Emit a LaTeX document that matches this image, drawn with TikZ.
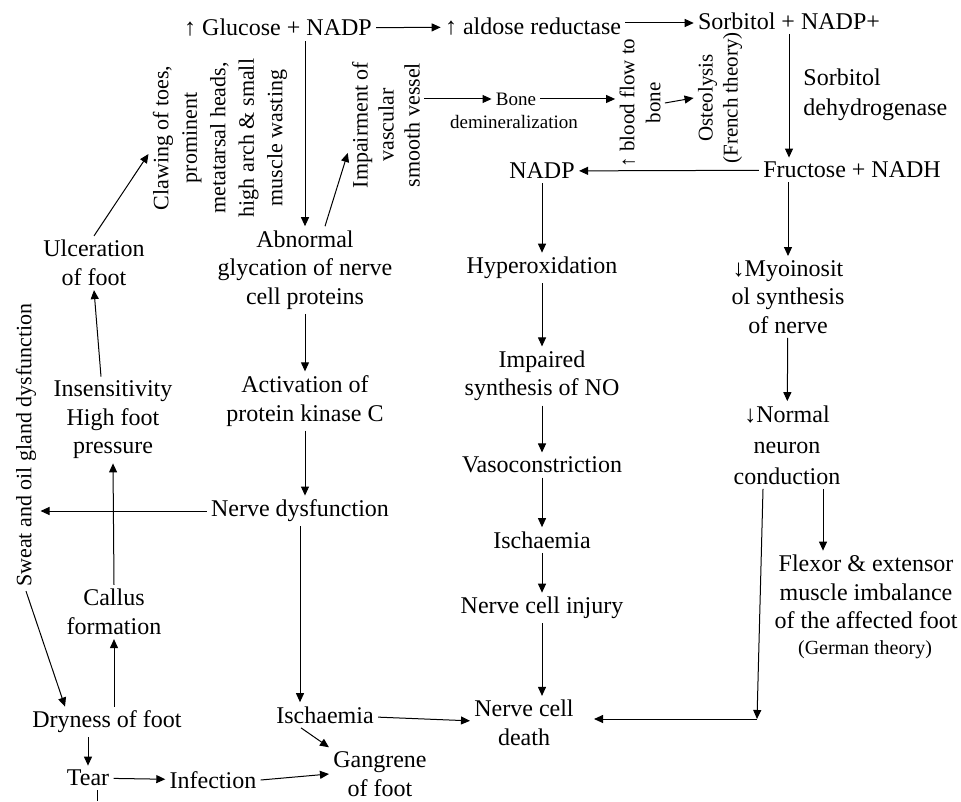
\documentclass[tikz,border=0pt]{standalone}
\usepackage{fontspec}
\setmainfont{Liberation Serif}
\usetikzlibrary{positioning,arrows.meta}

\begin{document}
\begin{tikzpicture}[x=0.5pt,y=-0.5pt,
  every node/.style={font=\fontsize{12}{14.25}\selectfont,inner sep=2pt,align=center},
  flow/.style={-{Triangle[length=4.5pt,width=4pt]},line width=0.5pt},
  vtext/.style={rotate=90,font=\fontsize{11}{14.25}\selectfont}]
\useasboundingbox (0,0) rectangle (961,801);
% top row
\node (glu) at (278,28) {↑ Glucose + NADP};
\node (ald) at (533,27) {↑ aldose reductase};
\node (sorb) at (789,21) {Sorbitol + NADP+};
\node[anchor=west,align=left,font=\fontsize{12}{15}\selectfont] (sdh) at (799,95) {Sorbitol\\dehydrogenase};
\node (fruc) at (852,170) {Fructose + NADH};
% vertical labels
\node[vtext] (claw) at (220,138) {Clawing of toes,\\prominent\\metatarsal heads,\\high arch \& small\\muscle wasting};
\node[vtext,font=\fontsize{11}{13}\selectfont] (impair) at (386,125) {Impairment of\\vascular\\smooth vessel};
\node[font=\fontsize{9.5}{12}\selectfont] (bone) at (516,99) {Bone};
\node[font=\fontsize{9.5}{12}\selectfont] (demin) at (514,122) {demineralization};
\node[vtext,font=\fontsize{10.5}{13}\selectfont] (blood) at (640,103) {↑ blood flow to\\bone};
\node[vtext,font=\fontsize{10.5}{12.5}\selectfont] (osteo) at (720,98) {Osteolysis\\(French theory)};
\node[vtext] (sweat) at (26,445) {Sweat and oil gland dysfunction};
% middle column
\node (nadp) at (542,171) {NADP};
\node (hyper) at (542,268) {Hyperoxidation};
\node (impsyn) at (542,376) {Impaired\\synthesis of NO};
\node (vaso) at (542,465) {Vasoconstriction};
\node (isch2) at (542,540) {Ischaemia};
\node (injury) at (542,608) {Nerve cell injury};
\node (death) at (524,723) {Nerve cell\\death};
% right column
\node (myo) at (788,297) {↓Myoinosit\\ol synthesis\\of nerve};
\node[font=\fontsize{12}{15.5}\selectfont] (norm) at (787,445) {↓Normal\\neuron\\conduction};
\node (flex) at (866,592) {Flexor \& extensor\\muscle imbalance\\of the affected foot};
\node[font=\fontsize{10}{12}\selectfont] (german) at (865,650) {(German theory)};
\coordinate (cn) at (757,719);
% left columns
\node (glyc) at (305,270) {Abnormal\\glycation of nerve\\cell proteins};
\node (kinase) at (305,401) {Activation of\\protein kinase C};
\node (nervedys) at (300,511) {Nerve dysfunction};
\node (isch1) at (325,715) {Ischaemia};
\node (gang) at (380,774) {Gangrene\\of foot};
\node (ulcer) at (94,263) {Ulceration\\of foot};
\node (insens) at (113,420) {Insensitivity\\High foot\\pressure};
\node (callus) at (114,612) {Callus\\formation};
\node (dry) at (107,722) {Dryness of foot};
\node (tear) at (88,778) {Tear};
\node (infect) at (213,780) {Infection};
\coordinate (tearEnd) at (97,801);

\draw[flow] (glu) -- (ald);
\draw[flow] ([yshift=2pt]ald.east) -- ([yshift=2pt]ald.east -| sorb.west);
\draw[flow] (sorb.south) -- (sorb.south |- fruc.north);
\draw[flow] (fruc) -- (nadp);
\draw[flow] (nadp) -- (hyper);
\draw[flow] (hyper) -- (impsyn);
\draw[flow] (impsyn) -- (vaso);
\draw[flow] (vaso) -- (isch2);
\draw[flow] (isch2) -- (injury);
\draw[flow] (injury.south) -- (injury.south |- death.north);
\draw[flow] (myo |- fruc.south) -- (myo);
\draw[flow] (myo) -- (norm);
\draw[flow] ([xshift=18pt]norm.south) -- ([xshift=18pt]norm.south |- flex.north);
\draw[flow] ([xshift=-12pt]norm.south) -- (cn);
\draw[flow] (cn) -- ([xshift=8pt]cn -| death.east);
\draw[flow] (glyc |- glu.south) -- (glyc);
\draw[flow] ([xshift=10pt]glyc.north) -- ([yshift=-14pt]impair.north);
\draw[flow] (impair.south |- bone.west) -- (bone.west);
\draw[flow] (bone.east) -- (bone.east -| blood.north);
\draw[flow] (blood.south) -- (osteo.north);
\draw[flow] (glyc) -- (kinase);
\draw[flow] (kinase) -- (kinase |- nervedys.north);
\draw[flow] (nervedys.south) -- (nervedys.south |- isch1.north);
\draw[flow] (isch1) -- (death);
\draw[flow] ([xshift=-12pt]isch1.south) -- (gang.north west);
\draw[flow] (nervedys.west) -- (nervedys.west -| sweat.south);
\draw[flow] (ulcer.north) -- ([yshift=-8pt]claw.north);
\draw[flow] ([xshift=-6pt]insens.north) -- (ulcer.south);
\draw[flow] (callus.north) -- (insens.south);
\draw[flow] (sweat.west) -- ([xshift=-21pt]dry.north);
\draw[flow] (callus.south |- dry.north) -- (callus.south);
\draw[flow] (tear |- dry.south) -- (tear);
\draw[flow] (tear) -- (infect);
\draw[flow] (infect.east) -- (gang.west);
\draw[line width=0.5pt] ([xshift=4.5pt]tear.south) -- (tearEnd);
\end{tikzpicture}
\end{document}
